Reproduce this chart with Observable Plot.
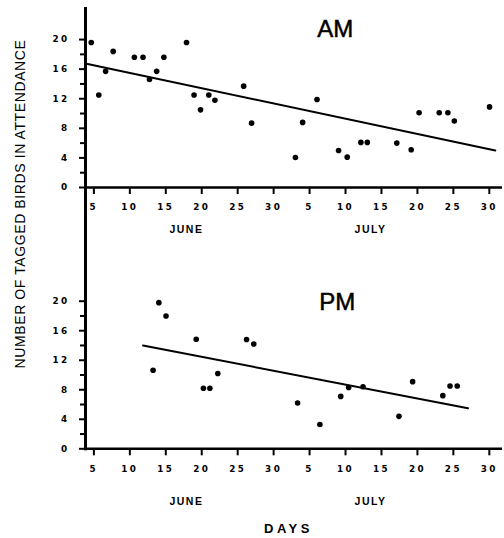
<!DOCTYPE html>
<html><head><meta charset="utf-8">
<script src="https://cdn.jsdelivr.net/npm/d3@7"></script>
<script src="https://cdn.jsdelivr.net/npm/@observablehq/plot@0.6"></script>
<style>
body{margin:0;background:#fff;}
#wrap{position:relative;width:504px;height:538px;font-family:"Liberation Sans",Arial,sans-serif;}
#ylab{position:absolute;left:20px;top:204px;transform:translate(-50%,-50%) rotate(-90deg);white-space:nowrap;font-size:14px;letter-spacing:0.6px;color:#000;}
svg{display:block}
</style></head><body>
<div id="wrap"><div id="ylab">NUMBER OF TAGGED BIRDS IN ATTENDANCE</div></div>
<script>
// Day index: June d = d, July d = 30 + d
const amDays   = [4.8, 5.85, 6.8, 7.85, 10.8, 12.0, 12.9, 13.9, 14.9, 18.05, 19.1, 20.0, 21.15, 22.0, 26.0, 27.1, 33.2, 34.2, 36.2, 39.2, 40.4, 42.3, 43.2, 47.3, 49.3, 50.4, 53.2, 54.4, 55.3, 60.2];
const amCounts = [19.6, 12.5, 15.7, 18.4, 17.6, 17.6, 14.6, 15.7, 17.6, 19.6, 12.5, 10.5, 12.5, 11.8, 13.7, 8.7, 4.05, 8.8, 11.9, 5.0, 4.1, 6.1, 6.1, 6.0, 5.1, 10.1, 10.1, 10.1, 9.0, 10.9];
const amTrendDays = [4.3, 61.0];
const amTrendCounts = [16.7, 5.0];

const pmDays   = [13.4, 14.2, 15.2, 19.4, 20.4, 21.3, 22.4, 26.4, 27.4, 33.5, 36.6, 39.5, 40.6, 42.6, 47.6, 49.5, 53.7, 54.7, 55.7];
const pmCounts = [10.65, 19.8, 18.0, 14.85, 8.2, 8.2, 10.2, 14.8, 14.2, 6.2, 3.3, 7.1, 8.3, 8.4, 4.4, 9.1, 7.2, 8.5, 8.5];
const pmTrendDays = [12.0, 57.2];
const pmTrendCounts = [14.0, 5.5];

const xTickDays = [5, 10, 15, 20, 25, 30, 35, 40, 45, 50, 55, 60];
const xTickLabels = ["5", "10", "15", "20", "25", "30", "5", "10", "15", "20", "25", "30"];
const yMajorTicks = [0, 4, 8, 12, 16, 20];
const yMinorTicks = [2, 6, 10, 14, 18];
const monthNames = ["JUNE", "JULY"];
const monthCenterDays = [17.9, 43.5];

const FONT = '"Liberation Sans", Arial, sans-serif';
const TICKFONT = '"DejaVu Sans", "Liberation Sans", sans-serif';

function zip(xs, ys) { return xs.map((x, i) => ({day: x, count: ys[i]})); }

function panel({title, days, counts, tDays, tCounts, height, marginTop, marginBottom, titleDx, titleDy, monthDy, extra}) {
  const pts = zip(days, counts);
  const trend = zip(tDays, tCounts);
  const months = monthNames.map((m, i) => ({label: m, day: monthCenterDays[i]}));
  const marks = [
    Plot.frame({anchor: "left", strokeWidth: 3, insetTop: title === "PM" ? -marginTop : 0, insetBottom: title === "AM" ? -marginBottom : 0}),
    Plot.ruleY([0], {strokeWidth: 2.5}),
    Plot.axisY({ticks: yMajorTicks, tickSize: 6, tickPadding: 10, strokeWidth: 2, fontSize: 8.8, fontWeight: "bold", fontFamily: TICKFONT, label: null, tickFormat: d => String(d)}),
    Plot.axisY({ticks: yMinorTicks, tickSize: 5, strokeWidth: 2, label: null, tickFormat: () => ""}),
    Plot.axisX({ticks: xTickDays, tickSize: 7, tickPadding: 9.5, strokeWidth: 2, fontSize: 8.8, fontWeight: "bold", fontFamily: TICKFONT, label: null, dx: 1.2,
      tickFormat: d => xTickLabels[xTickDays.indexOf(d)]}),
    Plot.line(trend, {x: "day", y: "count", strokeWidth: 2}),
    Plot.dot(pts, {x: "day", y: "count", r: 2.8, fill: "black", stroke: "none"}),
    Plot.text(months, {x: "day", text: "label", frameAnchor: "bottom", dy: monthDy, lineAnchor: "middle", fontSize: 10.5, fontWeight: "bold", fontFamily: FONT, dx: 1}),
    Plot.text([title], {text: d => d, frameAnchor: "top-left", dx: titleDx, dy: titleDy, textAnchor: "middle", lineAnchor: "middle", fontSize: 24, fontFamily: FONT, fill: "black", stroke: "black", strokeWidth: 0.5})
  ];
  if (extra) marks.push(extra);
  const svg = Plot.plot({
    width: 504, height, marginLeft: 85, marginRight: 2, marginTop, marginBottom,
    x: {type: "linear", domain: [4, 62]},
    y: {domain: [0, 24.2]},
    style: {background: "transparent", color: "black", fontFamily: FONT, overflow: "visible"},
    marks
  });
  svg.querySelectorAll('g[aria-label$="tick label"] text').forEach(t => t.setAttribute("letter-spacing", "2.4"));
  svg.querySelectorAll("text").forEach(t => {
    const s = t.textContent;
    if (s === "JUNE" || s === "JULY") t.setAttribute("letter-spacing", "1.5");
    if (s === "DAYS") t.setAttribute("letter-spacing", "3.5");
  });
  return svg;
}

const wrap = document.getElementById("wrap");
wrap.appendChild(panel({title: "AM", days: amDays, counts: amCounts, tDays: amTrendDays, tCounts: amTrendCounts,
  height: 250, marginTop: 8, marginBottom: 63, titleDx: 249.7, titleDy: 21, monthDy: 42.3}));
wrap.appendChild(panel({title: "PM", days: pmDays, counts: pmCounts, tDays: pmTrendDays, tCounts: pmTrendCounts,
  height: 288, marginTop: 19.7, marginBottom: 89.7, titleDx: 251.7, titleDy: 32, monthDy: 53.2,
  extra: Plot.text(["DAYS"], {text: d => d, frameAnchor: "bottom-left", dx: 203, dy: 79.7, textAnchor: "middle", lineAnchor: "middle", fontSize: 13, fontWeight: "bold", fontFamily: FONT})}));
</script>
</body></html>
